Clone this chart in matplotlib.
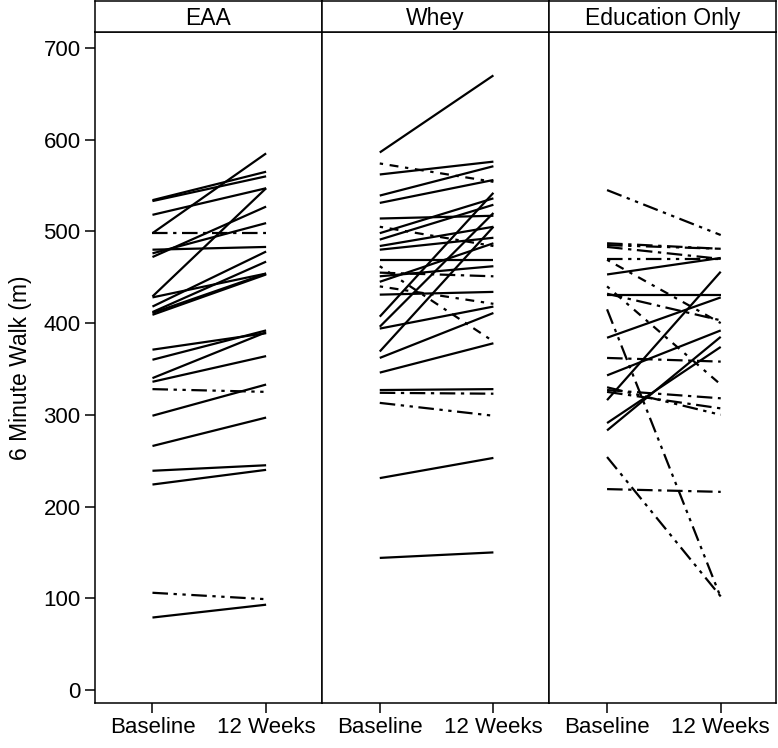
import matplotlib
matplotlib.use("Agg")
from matplotlib import pyplot as plt

plt.rcParams['font.family'] = ['Liberation Sans', 'DejaVu Sans']

groups = ["EAA", "Whey", "Education Only"]
time_labels = ["Baseline", "12 Weeks"]

# s = solid, dd = dash-dot, ddd = dash-dot-dot, dt = dotted dash
eaa_base = [534, 533, 518, 498, 498, 480, 476, 472, 429, 428, 418, 412, 411, 409,
            371, 360, 340, 336, 328, 299, 266, 239, 224, 106, 79]
eaa_wk12 = [565, 560, 547, 585, 498, 483, 509, 527, 547, 454, 478, 467, 454, 453,
            389, 392, 390, 364, 325, 333, 297, 245, 240, 99, 93]
eaa_style = ["s", "s", "s", "s", "dd", "s", "s", "s", "s", "s", "s", "s", "s", "s",
             "s", "s", "s", "s", "ddd", "s", "s", "s", "s", "ddd", "s"]

whey_base = [586, 574, 562, 539, 531, 514, 505, 498, 491, 484, 480, 469, 462, 451,
             445, 440, 431, 407, 396, 394, 369, 362, 346, 455, 327, 324, 313, 231, 144]
whey_wk12 = [670, 554, 576, 571, 556, 517, 484, 536, 529, 505, 493, 469, 380, 462,
             487, 421, 434, 542, 520, 418, 505, 411, 378, 451, 328, 323, 299, 253, 150]
whey_style = ["s", "dt", "s", "s", "s", "s", "dt", "s", "s", "s", "s", "s", "dt", "s",
              "s", "dt", "s", "s", "s", "s", "s", "s", "s", "dd", "s", "dd", "ddd", "s", "s"]

edu_base = [545, 487, 485, 483, 470, 469, 453, 431, 432, 440, 415, 384, 343, 327,
            330, 325, 316, 291, 283, 362, 254, 219]
edu_wk12 = [496, 481, 481, 470, 470, 400, 471, 431, 403, 333, 101, 428, 392, 318,
            300, 307, 456, 374, 385, 358, 102, 216]
edu_style = ["ddd", "dd", "ddd", "dd", "ddd", "dt", "s", "s", "dd", "dt", "ddd", "s", "s", "dd",
             "ddd", "dd", "s", "s", "s", "dd", "ddd", "dd"]

dash_map = {
    "s": "-",
    "dd": (0, (7, 2.5, 1.5, 2.5)),
    "ddd": (0, (7, 2.5, 1.5, 2.5, 1.5, 2.5)),
    "dt": (0, (1.5, 3, 4, 3)),
}

data = [(eaa_base, eaa_wk12, eaa_style),
        (whey_base, whey_wk12, whey_style),
        (edu_base, edu_wk12, edu_style)]

W, H = 778, 748
fig = plt.figure(figsize=(W / 100, H / 100), dpi=100)

left_px = 94.5
panel_w = 227.3
top_px = 32.3
bot_px = 703.3
strip_top = 1.0

for i, (grp, (b, w, st)) in enumerate(zip(groups, data)):
    x0 = (left_px + i * panel_w) / W
    ax = fig.add_axes([x0, (H - bot_px) / H, panel_w / W, (bot_px - top_px) / H])
    for bv, wv, s in zip(b, w, st):
        ax.plot([1, 2], [bv, wv], color="black", lw=1.6, linestyle=dash_map[s],
                solid_capstyle="butt", dash_capstyle="butt")
    ax.set_xlim(0.49, 2.49)
    ax.set_ylim(-14.5, 717)
    ax.set_xticks([1, 2])
    ax.set_xticklabels(time_labels, fontsize=16)
    ax.tick_params(axis="x", length=7, width=1.1, pad=3)
    if i == 0:
        ax.set_yticks(range(0, 701, 100))
        ax.tick_params(axis="y", length=7, width=1.1, labelsize=16, pad=3)
        ax.set_ylabel("6 Minute Walk (m)", fontsize=16.5, labelpad=8)
    else:
        ax.set_yticks([])
    for sp in ax.spines.values():
        sp.set_linewidth(1.1)

    # strip header
    sx = fig.add_axes([x0, (H - top_px) / H, panel_w / W, (top_px - strip_top) / H])
    sx.set_xticks([])
    sx.set_yticks([])
    for sp in sx.spines.values():
        sp.set_linewidth(1.1)
    sx.text(0.5, 0.45, grp, ha="center", va="center", fontsize=16.5, transform=sx.transAxes)

fig.savefig("out.png", dpi=100)
